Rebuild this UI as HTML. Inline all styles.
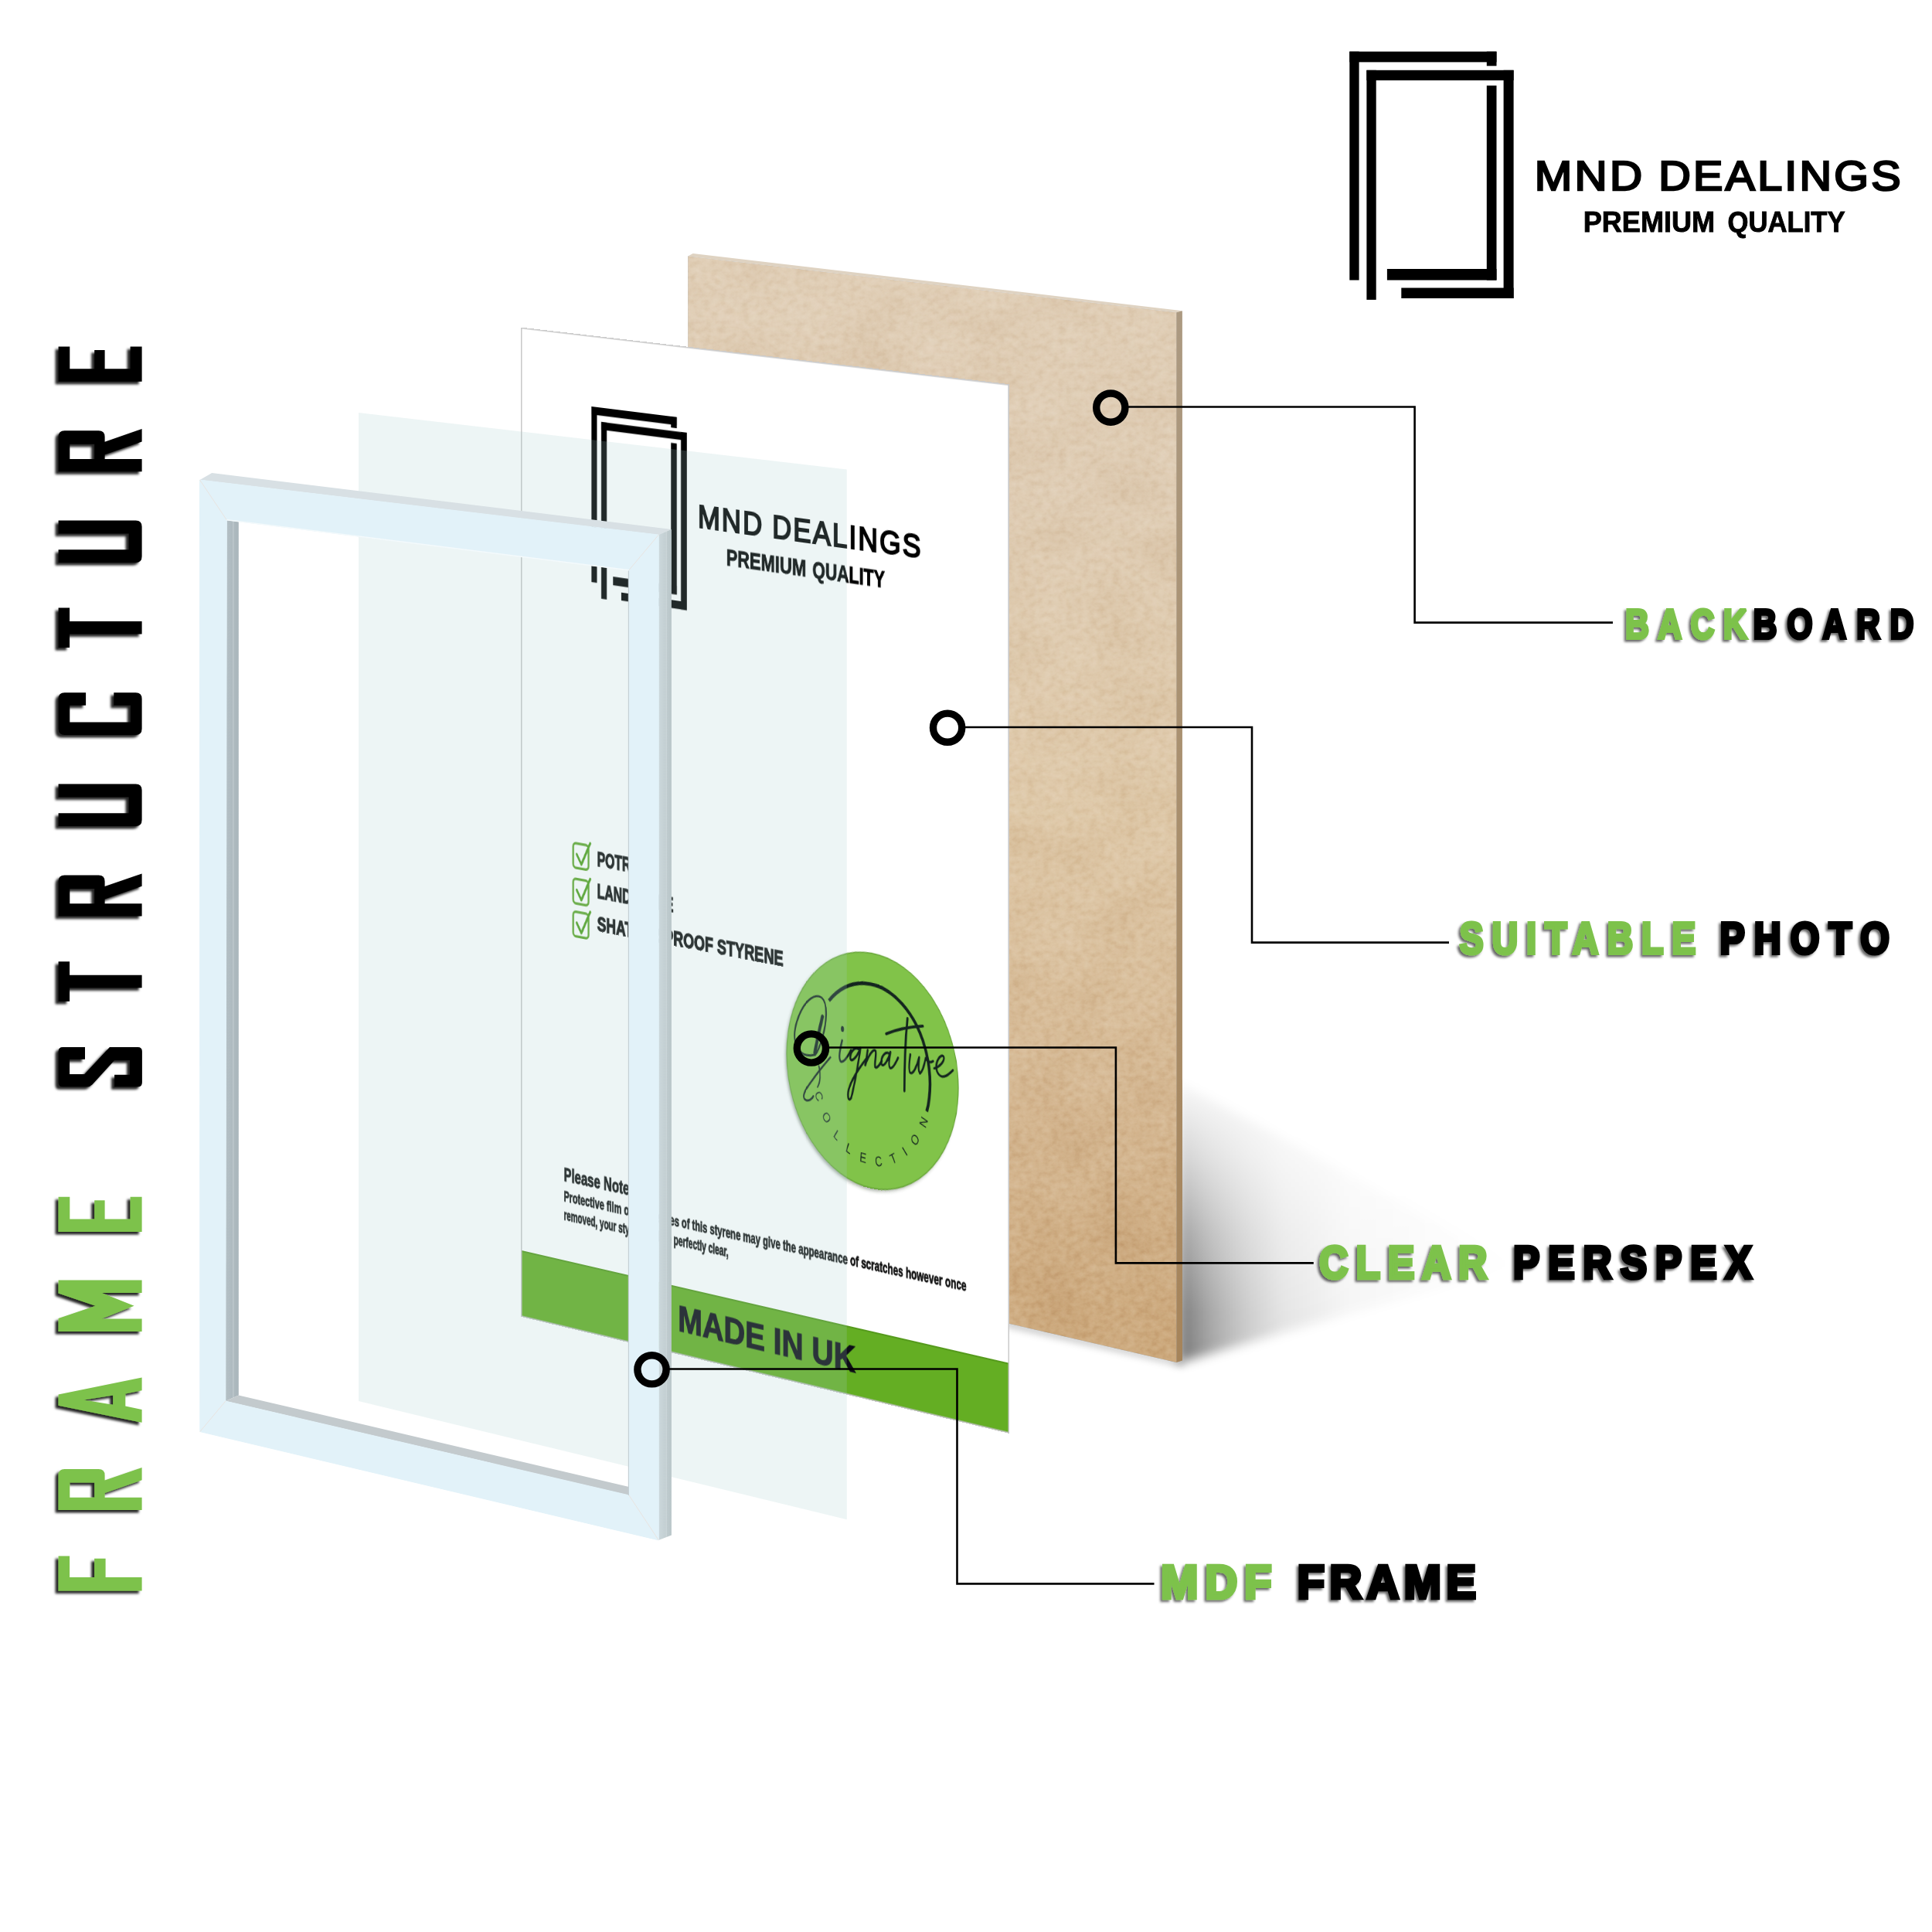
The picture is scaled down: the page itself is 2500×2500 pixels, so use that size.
<!DOCTYPE html>
<html><head><meta charset="utf-8"><title>Frame Structure</title>
<style>
html,body{margin:0;padding:0;background:#fff;}
body{width:2500px;height:2500px;position:relative;overflow:hidden;font-family:"Liberation Sans",sans-serif;}
.layer{position:absolute;left:0;top:0;width:2500px;height:2500px;}
#photo{position:absolute;left:0;top:0;width:850px;height:1280px;transform-origin:0 0;transform:matrix3d(0.655004538,0.05307878503,0,-6.717321103e-05,-0.0002359332962,0.9996381912,0,-3.498936619e-07,0,0,1,0,674.3,423.6,0,1);}
</style></head><body>
<svg class="layer" width="2500" height="2500" viewBox="0 0 2500 2500">
<defs>
<linearGradient id="bbgrad" x1="0" y1="330" x2="0" y2="1765" gradientUnits="userSpaceOnUse">
<stop offset="0" stop-color="#e0ceb6"/><stop offset="0.22" stop-color="#decbb2"/><stop offset="0.5" stop-color="#dec8a8"/><stop offset="0.78" stop-color="#d4b690"/><stop offset="1" stop-color="#cba77a"/>
</linearGradient>
<linearGradient id="bbside" x1="0" y1="400" x2="0" y2="1765" gradientUnits="userSpaceOnUse">
<stop offset="0" stop-color="#ac9a82"/><stop offset="0.5" stop-color="#a98f6d"/><stop offset="1" stop-color="#a6845a"/>
</linearGradient>
<linearGradient id="shg" x1="1530" y1="0" x2="1960" y2="0" gradientUnits="userSpaceOnUse">
<stop offset="0" stop-color="#000" stop-opacity="0.52"/><stop offset="0.06" stop-color="#000" stop-opacity="0.40"/><stop offset="0.12" stop-color="#000" stop-opacity="0.30"/><stop offset="0.2" stop-color="#000" stop-opacity="0.2"/><stop offset="0.3" stop-color="#000" stop-opacity="0.11"/><stop offset="0.5" stop-color="#000" stop-opacity="0.04"/><stop offset="1" stop-color="#000" stop-opacity="0"/>
</linearGradient>
<linearGradient id="shm" x1="0" y1="1395" x2="0" y2="1765" gradientUnits="userSpaceOnUse">
<stop offset="0" stop-color="#fff" stop-opacity="0.03"/><stop offset="0.28" stop-color="#fff" stop-opacity="0.33"/><stop offset="0.55" stop-color="#fff" stop-opacity="0.68"/><stop offset="0.82" stop-color="#fff" stop-opacity="0.95"/><stop offset="1" stop-color="#fff" stop-opacity="1"/>
</linearGradient>
<mask id="shmask" maskUnits="userSpaceOnUse" x="1400" y="1300" width="700" height="600"><rect x="1400" y="1300" width="700" height="600" fill="url(#shm)"/></mask>
<filter id="shblur" x="-20%" y="-20%" width="140%" height="140%"><feGaussianBlur stdDeviation="7"/></filter>
<filter id="shblur2" x="-20%" y="-20%" width="140%" height="140%"><feGaussianBlur stdDeviation="5"/></filter>
<filter id="grain" x="0" y="0" width="100%" height="100%" color-interpolation-filters="sRGB">
<feTurbulence type="fractalNoise" baseFrequency="0.10 0.13" numOctaves="3" seed="4" result="t"/>
<feColorMatrix in="t" type="matrix" values="0.32 0 0 0 0.34  0.32 0 0 0 0.34  0.32 0 0 0 0.34  0 0 0 0 1" result="g"/>
<feTurbulence type="fractalNoise" baseFrequency="0.012 0.016" numOctaves="2" seed="9" result="t2"/>
<feColorMatrix in="t2" type="matrix" values="0.2 0 0 0 0.4  0.2 0 0 0 0.4  0.2 0 0 0 0.4  0 0 0 0 1" result="g2"/>
<feBlend in="g" in2="SourceGraphic" mode="soft-light" result="b"/>
<feBlend in="g2" in2="b" mode="soft-light" result="b2"/>
<feComposite in="b2" in2="SourceGraphic" operator="in"/>
</filter>
</defs>
<g mask="url(#shmask)"><g filter="url(#shblur)"><polygon points="1524,1398 1524,1764 1960,1637" fill="url(#shg)"/></g></g>
<g filter="url(#shblur2)"><polygon points="1300,1716 1531,1768 1531,1762 1300,1708" fill="#000" fill-opacity="0.25"/></g>
<polygon points="890.2,331.6 1522.2,404.3 1522.3,1763.1 890.2,1616.1" fill="url(#bbgrad)" filter="url(#grain)"/>
<polygon points="890.2,331.6 896.6,328.0 1529.9,402.3 1522.2,404.3" fill="#dfd3c2"/>
<polygon points="1522.2,404.3 1529.9,402.3 1530.0,1760.5 1522.3,1763.1" fill="url(#bbside)"/>
</svg>
<div id="photo"><svg width="850" height="1280" viewBox="0 0 850 1280" style="display:block">
<rect x="0" y="0" width="850" height="1280" fill="#fff"/>
<g transform="translate(128.9,90.9) scale(0.8059,0.7621)"><g transform="translate(0.00,0.00) scale(1)" fill="#000"><rect x="0.00" y="0.00" width="12.30" height="295.80"/><rect x="0.00" y="0.00" width="190.20" height="13.70"/><rect x="177.50" y="0.00" width="12.70" height="18.60"/><rect x="177.50" y="44.00" width="12.70" height="251.80"/><rect x="48.60" y="281.30" width="141.60" height="14.50"/><rect x="22.10" y="24.10" width="12.30" height="297.10"/><rect x="22.10" y="24.10" width="190.20" height="13.20"/><rect x="199.30" y="24.10" width="13.00" height="295.20"/><rect x="67.00" y="305.80" width="145.30" height="13.50"/></g></g>
<text x="319.4" y="227.0" font-family="Liberation Sans" font-weight="normal" font-size="41.00" fill="#000" textLength="116.0" lengthAdjust="spacingAndGlyphs" stroke="#000" stroke-width="2.0" stroke-linejoin="miter" letter-spacing="2.5">MND</text>
<text x="450.0" y="227.0" font-family="Liberation Sans" font-weight="normal" font-size="41.00" fill="#000" textLength="256.5" lengthAdjust="spacingAndGlyphs" stroke="#000" stroke-width="2.0" stroke-linejoin="miter" letter-spacing="2.5">DEALINGS</text>
<text x="369.7" y="270.5" font-family="Liberation Sans" font-weight="bold" font-size="29.30" fill="#000" textLength="139.0" lengthAdjust="spacingAndGlyphs" stroke="#000" stroke-width="0.9">PREMIUM</text>
<text x="519.6" y="270.5" font-family="Liberation Sans" font-weight="bold" font-size="29.30" fill="#000" textLength="123.4" lengthAdjust="spacingAndGlyphs" stroke="#000" stroke-width="0.9">QUALITY</text>
<rect x="95.5" y="654.8" width="28" height="31.5" rx="5" ry="5" fill="none" stroke="#5da62a" stroke-width="3.2"/>
<path d="M102,668.8 l8.5,12 l16,-29" fill="none" stroke="#4fa01d" stroke-width="3.6" stroke-linecap="round" stroke-linejoin="round"/>
<text x="139.2" y="679.2" font-family="Liberation Sans" font-weight="bold" font-size="26.60" fill="#111" textLength="96.0" lengthAdjust="spacingAndGlyphs" stroke="#111" stroke-width="1.3">POTRAIT</text>
<rect x="95.5" y="700.6" width="28" height="31.5" rx="5" ry="5" fill="none" stroke="#5da62a" stroke-width="3.2"/>
<path d="M102,714.6 l8.5,12 l16,-29" fill="none" stroke="#4fa01d" stroke-width="3.6" stroke-linecap="round" stroke-linejoin="round"/>
<text x="139.2" y="720.5" font-family="Liberation Sans" font-weight="bold" font-size="26.60" fill="#111" textLength="137.0" lengthAdjust="spacingAndGlyphs" stroke="#111" stroke-width="1.3">LANDSCAPE</text>
<rect x="95.5" y="742.9" width="28" height="31.5" rx="5" ry="5" fill="none" stroke="#5da62a" stroke-width="3.2"/>
<path d="M102,756.9 l8.5,12 l16,-29" fill="none" stroke="#4fa01d" stroke-width="3.6" stroke-linecap="round" stroke-linejoin="round"/>
<text x="139.2" y="761.8" font-family="Liberation Sans" font-weight="bold" font-size="26.60" fill="#111" textLength="330.0" lengthAdjust="spacingAndGlyphs" stroke="#111" stroke-width="1.3">SHATTER PROOF STYRENE</text>
<circle cx="618.0" cy="873.9" r="145.5" fill="#3c4a30" fill-opacity="0.45" filter="url(#stsh)"/>
<circle cx="620.5" cy="870.9" r="145.5" fill="#81c349" stroke="#6aa83a" stroke-width="1.5"/>
<path d="M547.7,794.5 A101,109 0 0 1 713.5,907.8" fill="none" stroke="#14251f" stroke-width="4.6" stroke-linecap="butt"/>
<path id="colpath" d="M523.4,912.8 A104,117 0 0 0 724.5,870.9" fill="none"/>
<text font-family="Liberation Sans" font-size="17" fill="#14251f" letter-spacing="16.4"><textPath href="#colpath" startOffset="0">COLLECTION</textPath></text>
<path d="M 522.3,865.7 C 497.5,873.5 480.9,857.9 492.5,828.6 C 502.5,803.2 522.3,787.2 535.5,792.6 C 547.0,798.1 542.9,825.0 537.1,840.2 C 533.8,849.1 530.5,859.1 523.9,865.5" fill="none" stroke="#14251f" stroke-width="2.6" stroke-linecap="round" stroke-linejoin="round"/><path d="M 536.7,815.8 C 532.2,830.2 527.2,847.6 523.4,863.2" fill="none" stroke="#14251f" stroke-width="5.0" stroke-linecap="round" stroke-linejoin="round"/><path d="M 550.3,864.7 C 542.1,873.0 530.5,884.3 519.0,898.0 C 509.1,909.0 500.0,919.9 506.6,923.8 C 512.4,925.9 519.0,921.3 521.0,917.4" fill="none" stroke="#14251f" stroke-width="2.6" stroke-linecap="round" stroke-linejoin="round"/><path d="M 530.5,878.3 C 533.8,887.4 533.0,898.3 528.1,905.0" fill="none" stroke="#14251f" stroke-width="2.0" stroke-linecap="round" stroke-linejoin="round"/><path d="M 570.3,840.8 C 567.1,851.5 563.4,862.7 567.6,867.2 C 571.7,869.0 579.8,860.4 585.6,850.6" fill="none" stroke="#14251f" stroke-width="3.0" stroke-linecap="round" stroke-linejoin="round"/><path d="M 598.2,847.6 C 591.3,845.0 583.5,853.9 584.3,861.5 C 586.7,866.5 596.5,856.8 601.4,845.9" fill="none" stroke="#14251f" stroke-width="3.0" stroke-linecap="round" stroke-linejoin="round"/><path d="M 601.4,845.9 C 598.2,864.9 590.5,895.8 585.6,910.2 C 580.7,916.9 577.9,907.2 583.4,895.6 C 590.0,881.6 601.9,867.9 613.3,855.5" fill="none" stroke="#14251f" stroke-width="3.0" stroke-linecap="round" stroke-linejoin="round"/><path d="M 613.8,846.5 C 612.2,854.5 610.6,861.9 609.6,865.8 C 615.0,852.9 623.6,842.7 627.2,845.4 C 629.3,849.6 624.9,861.0 626.5,865.7 C 629.1,867.7 634.0,862.3 637.8,856.1" fill="none" stroke="#14251f" stroke-width="3.0" stroke-linecap="round" stroke-linejoin="round"/><path d="M 650.7,845.6 C 643.8,842.5 635.3,852.3 637.3,860.6 C 640.5,864.9 648.6,854.2 652.4,843.3 C 650.3,851.4 648.3,861.1 651.9,863.2 C 655.6,863.9 661.3,855.7 665.3,848.6" fill="none" stroke="#14251f" stroke-width="3.0" stroke-linecap="round" stroke-linejoin="round"/><path d="M 681.0,797.7 C 677.8,823.7 675.8,859.5 675.8,887.9" fill="none" stroke="#14251f" stroke-width="3.6" stroke-linecap="round" stroke-linejoin="round"/><path d="M 645.1,821.8 C 661.3,814.7 685.5,807.4 706.8,803.5" fill="none" stroke="#14251f" stroke-width="3.6" stroke-linecap="round" stroke-linejoin="round"/><path d="M 685.8,841.4 C 684.2,850.0 682.3,861.5 685.8,864.2 C 690.7,865.9 697.1,854.0 700.8,842.8 C 699.7,850.1 698.4,859.7 702.0,862.5" fill="none" stroke="#14251f" stroke-width="3.0" stroke-linecap="round" stroke-linejoin="round"/><path d="M 702.0,862.5 C 706.5,859.8 709.7,849.8 711.6,842.4 C 714.5,846.8 719.3,847.2 724.1,844.2" fill="none" stroke="#14251f" stroke-width="3.0" stroke-linecap="round" stroke-linejoin="round"/><path d="M 725.8,852.8 C 735.4,849.6 743.7,841.3 741.8,836.3 C 738.6,832.6 730.6,839.7 729.3,849.3 C 729.0,858.8 737.0,863.6 745.0,859.4 C 749.8,857.0 753.8,853.4 757.0,850.6" fill="none" stroke="#14251f" stroke-width="3.0" stroke-linecap="round" stroke-linejoin="round"/><ellipse cx="570.8" cy="826.4" rx="2.6" ry="3.6" fill="#14251f"/>
<text x="78.4" y="1092.4" font-family="Liberation Sans" font-weight="bold" font-size="24.50" fill="#111" textLength="126.0" lengthAdjust="spacingAndGlyphs" stroke="#111" stroke-width="1.0">Please Note:</text>
<text x="78.4" y="1118.5" font-family="Liberation Sans" font-weight="bold" font-size="18.60" fill="#111" textLength="701.0" lengthAdjust="spacingAndGlyphs" stroke="#111" stroke-width="0.8">Protective film on both sides of this styrene may give the appearance of scratches however once</text>
<text x="78.4" y="1142.5" font-family="Liberation Sans" font-weight="bold" font-size="18.60" fill="#111" textLength="295.0" lengthAdjust="spacingAndGlyphs" stroke="#111" stroke-width="0.8">removed, your styrene will be perfectly clear,</text>
<rect x="0" y="1194" width="850" height="86" fill="#64ae23"/>
<rect x="0" y="1194" width="850" height="2" fill="#559a1c"/>
<rect x="0" y="1278" width="850" height="2" fill="#4f9417"/>
<text x="284.2" y="1250.2" font-family="Liberation Sans" font-weight="bold" font-size="46.00" fill="#0a0e14" textLength="309.0" lengthAdjust="spacingAndGlyphs" filter="url(#tblur)" stroke="#0a0e14" stroke-width="1.2">MADE IN UK</text>
<defs><filter id="tblur"><feGaussianBlur stdDeviation="0.7"/></filter><filter id="stsh" x="-10%" y="-10%" width="120%" height="120%"><feGaussianBlur stdDeviation="2"/></filter></defs>
<rect x="0.75" y="0.75" width="848.5" height="1278.5" fill="none" stroke="#c9c9c9" stroke-width="1.8"/>
</svg></div>
<svg class="layer" width="2500" height="2500" viewBox="0 0 2500 2500">
<defs>
<filter id="tshadow" x="-10%" y="-2%" width="120%" height="104%"><feDropShadow dx="-4" dy="3.5" stdDeviation="1.6" flood-color="#000" flood-opacity="0.85"/></filter>
<filter id="lshadow" x="-5%" y="-5%" width="110%" height="110%"><feDropShadow dx="-2.6" dy="2.6" stdDeviation="1.4" flood-color="#000" flood-opacity="0.6"/></filter>
<linearGradient id="frside" x1="852" y1="0" x2="869" y2="0" gradientUnits="userSpaceOnUse">
<stop offset="0" stop-color="#ccd8dc"/><stop offset="0.55" stop-color="#c3cfd2"/><stop offset="0.6" stop-color="#d0dadd"/><stop offset="0.65" stop-color="#bfcbce"/><stop offset="1" stop-color="#b9c6c9"/>
</linearGradient>
<linearGradient id="frin" x1="293" y1="0" x2="309" y2="0" gradientUnits="userSpaceOnUse">
<stop offset="0" stop-color="#b4c0c5"/><stop offset="0.5" stop-color="#aebac0"/><stop offset="0.55" stop-color="#c4ced2"/><stop offset="0.62" stop-color="#adb9be"/><stop offset="1" stop-color="#aab6bc"/>
</linearGradient>
</defs>
<polygon points="464.0,534.0 1095.8,607.5 1095.8,1966.3 464.0,1813.0" fill="rgba(165,205,205,0.2)"/>
<polygon points="258.6,621.1 274.2,612.0 868.9,684.9 852.2,692.1" fill="#d8e0e4"/>
<polygon points="852.2,692.1 868.9,684.9 868.9,1986.6 852.2,1992.9" fill="url(#frside)"/>
<polygon points="293.3,672.8 308.8,674.7 308.8,1805.4 291.8,1813.1" fill="url(#frin)"/>
<polygon points="291.8,1813.1 308.8,1805.4 813.9,1924.0 813.9,1934.9" fill="#c3cacd"/>
<path d="M258.6,621.1 L852.2,692.1 L852.2,1992.9 L258.8,1852.5 Z M293.3,672.8 L813.9,737.7 L813.9,1934.9 L291.8,1813.1 Z" fill="#e2f2f9" fill-rule="evenodd" stroke="#e2f2f9" stroke-width="1" stroke-linejoin="miter"/>
<line x1="258.6" y1="621.1" x2="293.3" y2="672.8" stroke="#e9e4e0" stroke-width="1"/>
<line x1="852.2" y1="692.1" x2="813.9" y2="737.7" stroke="#e9e4e0" stroke-width="1"/>
<line x1="852.2" y1="1992.9" x2="813.9" y2="1934.9" stroke="#e9e4e0" stroke-width="1"/>
<line x1="258.8" y1="1852.5" x2="291.8" y2="1813.1" stroke="#e9e4e0" stroke-width="1"/>
<line x1="813.4" y1="737.7" x2="813.4" y2="1934.9" stroke="#c5d0d5" stroke-width="1.2"/>
<line x1="293.3" y1="672.8" x2="813.9" y2="737.7" stroke="#f4fafc" stroke-width="1.5"/>
<polyline points="1459.3,526.5 1830.6,526.5 1830.6,805.6 2087.0,805.6" fill="none" stroke="#000" stroke-width="2.6"/>
<polyline points="1248.1,941.0 1620.0,941.0 1620.0,1219.6 1875.0,1219.6" fill="none" stroke="#000" stroke-width="2.6"/>
<polyline points="1071.9,1355.5 1443.9,1355.5 1443.9,1634.4 1699.8,1634.4" fill="none" stroke="#000" stroke-width="2.6"/>
<polyline points="865.5,1771.5 1238.5,1771.5 1238.5,2049.4 1493.5,2049.4" fill="none" stroke="#000" stroke-width="2.6"/>
<circle cx="1437.3" cy="527.6" r="18.6" fill="none" stroke="#000" stroke-width="9.4"/>
<circle cx="1226.1" cy="941.7" r="18.6" fill="none" stroke="#000" stroke-width="9.4"/>
<circle cx="1049.9" cy="1356.5" r="18.6" fill="none" stroke="#000" stroke-width="9.4"/>
<circle cx="843.5" cy="1772.3" r="18.6" fill="none" stroke="#000" stroke-width="9.4"/>
<g filter="url(#lshadow)" font-family="Liberation Sans" font-weight="bold" stroke-linejoin="miter" stroke-miterlimit="2.5">
<text transform="translate(2103.17,826.16) scale(0.780,1)" font-size="54.51" letter-spacing="14.85" fill="#7dc24b" stroke="#7dc24b" stroke-width="4.09">BACK</text>
<text transform="translate(2268.87,826.16) scale(0.780,1)" font-size="54.51" letter-spacing="16.60" fill="#000" stroke="#000" stroke-width="4.09">BOARD</text>
<text transform="translate(1888.70,1234.08) scale(0.820,1)" font-size="56.47" letter-spacing="13.54" fill="#7dc24b" stroke="#7dc24b" stroke-width="4.24">SUITABLE</text>
<text transform="translate(2225.48,1234.08) scale(0.860,1)" font-size="56.47" letter-spacing="13.89" fill="#000" stroke="#000" stroke-width="4.24">PHOTO</text>
<text transform="translate(1707.36,1653.85) scale(0.860,1)" font-size="60.00" letter-spacing="11.49" fill="#7dc24b" stroke="#7dc24b" stroke-width="4.50">CLEAR</text>
<text transform="translate(1958.09,1653.85) scale(0.860,1)" font-size="60.00" letter-spacing="12.63" fill="#000" stroke="#000" stroke-width="4.50">PERSPEX</text>
<text transform="translate(1502.37,2068.32) scale(0.950,1)" font-size="60.92" letter-spacing="9.40" fill="#7dc24b" stroke="#7dc24b" stroke-width="4.57">MDF</text>
<text transform="translate(1678.67,2068.32) scale(0.950,1)" font-size="60.92" letter-spacing="6.75" fill="#000" stroke="#000" stroke-width="4.57">FRAME</text>
</g>
<g filter="url(#tshadow)">
<path transform="translate(75.6,2058.4) rotate(-90)" d="M0,0 H45 V14.5 H17.5 V46.5 H41.7 V61 H17.5 V108 H0 Z" fill="#7dc24b" fill-rule="evenodd"/>
<path transform="translate(75.6,1954.1) rotate(-90)" d="M0,0 H45 Q53,0 53,8 V52 Q53,60 45,60 H38.5 L55.1,108 H38.8 L22,60 H16.3 V108 H0 Z M16.3,14.7 H35.5 V46.6 H16.3 Z" fill="#7dc24b" fill-rule="evenodd"/>
<path transform="translate(75.6,1840.8) rotate(-90)" d="M0,108 L22,0 H36.4 L58.4,108 H41.5 L37.2,86.7 H21.2 L16.9,108 Z M29.2,33 L35.4,70.6 H23 Z" fill="#7dc24b" fill-rule="evenodd"/>
<path transform="translate(75.6,1723.0) rotate(-90)" d="M0,108 V0 H17 L33.2,48 L49.4,0 H66.4 V108 H50 V56 L33.2,98 L16.4,56 V108 Z" fill="#7dc24b" fill-rule="evenodd"/>
<path transform="translate(75.6,1594.0) rotate(-90)" d="M0,0 H45.3 V14.7 H16.5 V46.6 H40.7 V60 H16.5 V93 H45.3 V108 H0 Z" fill="#7dc24b" fill-rule="evenodd"/>
<path transform="translate(75.6,1406.3) rotate(-90)" d="M5.5,0 H45.9 Q51.4,0 51.4,5.5 V34.4 H35.5 V14.5 H16.3 V33.7 L51.4,66.3 V102.8 Q51.4,108.3 45.9,108.3 H5.5 Q0,108.3 0,102.8 V72.5 H15.6 V92.4 H34.4 V72.5 L3,44 Q0,41 0,37 V5.5 Q0,0 5.5,0 Z" fill="#000" fill-rule="evenodd"/>
<path transform="translate(75.6,1295.8) rotate(-90)" d="M0,0 H51.5 V14.5 H34 V108 H17.5 V14.5 H0 Z" fill="#000" fill-rule="evenodd"/>
<path transform="translate(75.6,1185.5) rotate(-90)" d="M0,0 H45 Q53,0 53,8 V52 Q53,60 45,60 H38.5 L55.1,108 H38.8 L22,60 H16.3 V108 H0 Z M16.3,14.7 H35.5 V46.6 H16.3 Z" fill="#000" fill-rule="evenodd"/>
<path transform="translate(75.6,1069.0) rotate(-90)" d="M0,0 H16.8 V91 H37.6 V0 H54.4 V100 Q54.4,108 46.4,108 H8 Q0,108 0,100 Z" fill="#000" fill-rule="evenodd"/>
<path transform="translate(75.6,951.0) rotate(-90)" d="M8,0 H46.8 Q54.8,0 54.8,8 V35.5 H38.3 V14.7 H16.5 V93.3 H38.3 V71.7 H54.8 V100 Q54.8,108 46.8,108 H8 Q0,108 0,100 V8 Q0,0 8,0 Z" fill="#000" fill-rule="evenodd"/>
<path transform="translate(75.6,838.0) rotate(-90)" d="M0,0 H51.5 V14.5 H34 V108 H17.5 V14.5 H0 Z" fill="#000" fill-rule="evenodd"/>
<path transform="translate(75.6,728.0) rotate(-90)" d="M0,0 H16.8 V91 H37.6 V0 H54.4 V100 Q54.4,108 46.4,108 H8 Q0,108 0,100 Z" fill="#000" fill-rule="evenodd"/>
<path transform="translate(75.6,610.2) rotate(-90)" d="M0,0 H45 Q53,0 53,8 V52 Q53,60 45,60 H38.5 L55.1,108 H38.8 L22,60 H16.3 V108 H0 Z M16.3,14.7 H35.5 V46.6 H16.3 Z" fill="#000" fill-rule="evenodd"/>
<path transform="translate(75.6,493.8) rotate(-90)" d="M0,0 H45.3 V14.7 H16.5 V46.6 H40.7 V60 H16.5 V93 H45.3 V108 H0 Z" fill="#000" fill-rule="evenodd"/>
</g>
<g transform="translate(1746.30,66.70) scale(1)" fill="#000"><rect x="0.00" y="0.00" width="12.30" height="295.80"/><rect x="0.00" y="0.00" width="190.20" height="13.70"/><rect x="177.50" y="0.00" width="12.70" height="18.60"/><rect x="177.50" y="44.00" width="12.70" height="251.80"/><rect x="48.60" y="281.30" width="141.60" height="14.50"/><rect x="22.10" y="24.10" width="12.30" height="297.10"/><rect x="22.10" y="24.10" width="190.20" height="13.20"/><rect x="199.30" y="24.10" width="13.00" height="295.20"/><rect x="67.00" y="305.80" width="145.30" height="13.50"/></g>
<text x="1985.8" y="246.0" font-family="Liberation Sans" font-weight="normal" font-size="54.20" fill="#000" textLength="142.4" lengthAdjust="spacingAndGlyphs" stroke="#000" stroke-width="2.5" stroke-linejoin="miter" letter-spacing="3">MND</text>
<text x="2146.3" y="246.0" font-family="Liberation Sans" font-weight="normal" font-size="54.20" fill="#000" textLength="316.4" lengthAdjust="spacingAndGlyphs" stroke="#000" stroke-width="2.5" stroke-linejoin="miter" letter-spacing="3">DEALINGS</text>
<text x="2048.7" y="300.3" font-family="Liberation Sans" font-weight="bold" font-size="36.90" fill="#000" textLength="170.5" lengthAdjust="spacingAndGlyphs" stroke="#000" stroke-width="0.9">PREMIUM</text>
<text x="2235.6" y="300.3" font-family="Liberation Sans" font-weight="bold" font-size="36.90" fill="#000" textLength="152.0" lengthAdjust="spacingAndGlyphs" stroke="#000" stroke-width="0.9">QUALITY</text>
</svg>
</body></html>
